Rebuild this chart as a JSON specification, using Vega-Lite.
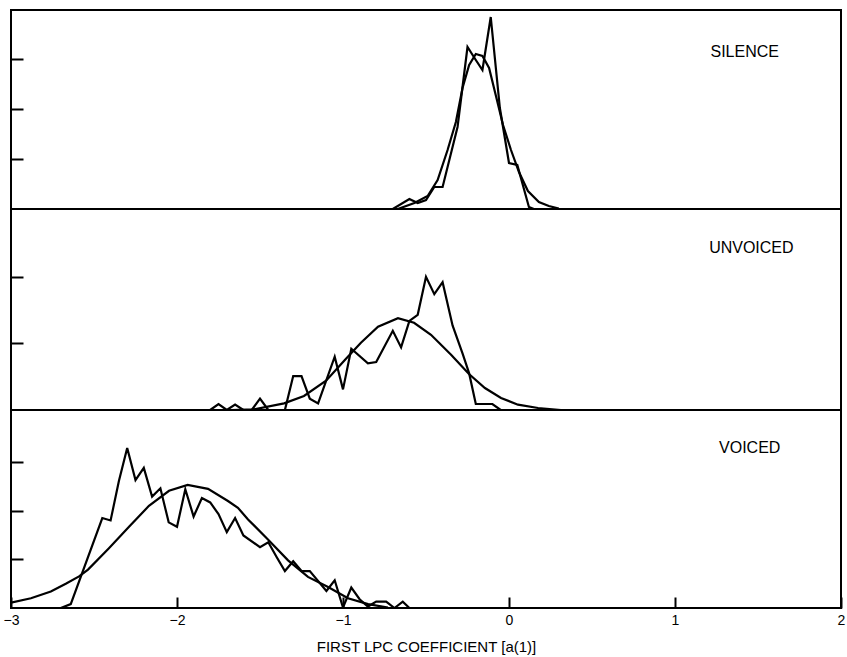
{
  "$schema": "https://vega.github.io/schema/vega-lite/v6.json",
  "background": "white",
  "padding": {"left": 2, "top": 9, "right": 0, "bottom": 0},
  "spacing": 0,
  "bounds": "flush",
  "config": {
    "view": {"stroke": "black", "strokeWidth": 2},
    "font": "Liberation Sans",
    "concat": {"spacing": 0},
    "axis": {"grid": false, "domain": false, "tickColor": "black", "tickWidth": 2, "labelColor": "black", "titleColor": "black"}
  },
  "datasets": {
    "silence": [
      {"x": -0.70, "y": 0, "s": "hist"},
      {"x": -0.60, "y": 0.20, "s": "hist"},
      {"x": -0.55, "y": 0.12, "s": "hist"},
      {"x": -0.50, "y": 0.18, "s": "hist"},
      {"x": -0.45, "y": 0.44, "s": "hist"},
      {"x": -0.40, "y": 0.44, "s": "hist"},
      {"x": -0.31, "y": 1.64, "s": "hist"},
      {"x": -0.25, "y": 3.24, "s": "hist"},
      {"x": -0.20, "y": 2.98, "s": "hist"},
      {"x": -0.16, "y": 2.78, "s": "hist"},
      {"x": -0.11, "y": 3.84, "s": "hist"},
      {"x": -0.055, "y": 2.02, "s": "hist"},
      {"x": 0.00, "y": 0.92, "s": "hist"},
      {"x": 0.05, "y": 0.88, "s": "hist"},
      {"x": 0.12, "y": 0.04, "s": "hist"},
      {"x": 0.15, "y": 0, "s": "hist"},
      {"x": -0.67, "y": 0, "s": "fit"},
      {"x": -0.57, "y": 0.12, "s": "fit"},
      {"x": -0.49, "y": 0.26, "s": "fit"},
      {"x": -0.43, "y": 0.58, "s": "fit"},
      {"x": -0.37, "y": 1.18, "s": "fit"},
      {"x": -0.32, "y": 1.74, "s": "fit"},
      {"x": -0.28, "y": 2.42, "s": "fit"},
      {"x": -0.24, "y": 2.88, "s": "fit"},
      {"x": -0.20, "y": 3.10, "s": "fit"},
      {"x": -0.16, "y": 3.06, "s": "fit"},
      {"x": -0.12, "y": 2.82, "s": "fit"},
      {"x": -0.08, "y": 2.28, "s": "fit"},
      {"x": -0.036, "y": 1.68, "s": "fit"},
      {"x": 0.012, "y": 1.18, "s": "fit"},
      {"x": 0.06, "y": 0.74, "s": "fit"},
      {"x": 0.114, "y": 0.36, "s": "fit"},
      {"x": 0.18, "y": 0.14, "s": "fit"},
      {"x": 0.24, "y": 0.06, "s": "fit"},
      {"x": 0.30, "y": 0.01, "s": "fit"}
    ],
    "unvoiced": [
      {"x": -1.80, "y": 0, "s": "hist"},
      {"x": -1.75, "y": 0.09, "s": "hist"},
      {"x": -1.70, "y": 0, "s": "hist"},
      {"x": -1.65, "y": 0.08, "s": "hist"},
      {"x": -1.60, "y": 0, "s": "hist"},
      {"x": -1.55, "y": 0, "s": "hist"},
      {"x": -1.50, "y": 0.17, "s": "hist"},
      {"x": -1.45, "y": 0, "s": "hist"},
      {"x": -1.35, "y": 0, "s": "hist"},
      {"x": -1.30, "y": 0.51, "s": "hist"},
      {"x": -1.25, "y": 0.51, "s": "hist"},
      {"x": -1.20, "y": 0.17, "s": "hist"},
      {"x": -1.15, "y": 0.10, "s": "hist"},
      {"x": -1.05, "y": 0.80, "s": "hist"},
      {"x": -1.00, "y": 0.31, "s": "hist"},
      {"x": -0.95, "y": 0.92, "s": "hist"},
      {"x": -0.85, "y": 0.70, "s": "hist"},
      {"x": -0.80, "y": 0.72, "s": "hist"},
      {"x": -0.70, "y": 1.19, "s": "hist"},
      {"x": -0.65, "y": 0.94, "s": "hist"},
      {"x": -0.60, "y": 1.34, "s": "hist"},
      {"x": -0.55, "y": 1.43, "s": "hist"},
      {"x": -0.50, "y": 2.00, "s": "hist"},
      {"x": -0.45, "y": 1.74, "s": "hist"},
      {"x": -0.40, "y": 1.92, "s": "hist"},
      {"x": -0.34, "y": 1.27, "s": "hist"},
      {"x": -0.28, "y": 0.85, "s": "hist"},
      {"x": -0.24, "y": 0.55, "s": "hist"},
      {"x": -0.20, "y": 0.09, "s": "hist"},
      {"x": -0.10, "y": 0.09, "s": "hist"},
      {"x": -0.05, "y": 0, "s": "hist"},
      {"x": -1.675, "y": 0, "s": "fit"},
      {"x": -1.536, "y": 0.01, "s": "fit"},
      {"x": -1.355, "y": 0.10, "s": "fit"},
      {"x": -1.235, "y": 0.21, "s": "fit"},
      {"x": -1.102, "y": 0.44, "s": "fit"},
      {"x": -0.982, "y": 0.77, "s": "fit"},
      {"x": -0.892, "y": 1.01, "s": "fit"},
      {"x": -0.789, "y": 1.25, "s": "fit"},
      {"x": -0.669, "y": 1.38, "s": "fit"},
      {"x": -0.572, "y": 1.31, "s": "fit"},
      {"x": -0.470, "y": 1.13, "s": "fit"},
      {"x": -0.349, "y": 0.83, "s": "fit"},
      {"x": -0.241, "y": 0.54, "s": "fit"},
      {"x": -0.145, "y": 0.33, "s": "fit"},
      {"x": -0.048, "y": 0.18, "s": "fit"},
      {"x": 0.054, "y": 0.08, "s": "fit"},
      {"x": 0.175, "y": 0.03, "s": "fit"},
      {"x": 0.313, "y": 0, "s": "fit"}
    ],
    "voiced": [
      {"x": -2.70, "y": 0, "s": "hist"},
      {"x": -2.64, "y": 0.08, "s": "hist"},
      {"x": -2.45, "y": 1.85, "s": "hist"},
      {"x": -2.40, "y": 1.80, "s": "hist"},
      {"x": -2.35, "y": 2.61, "s": "hist"},
      {"x": -2.30, "y": 3.29, "s": "hist"},
      {"x": -2.25, "y": 2.63, "s": "hist"},
      {"x": -2.20, "y": 2.88, "s": "hist"},
      {"x": -2.15, "y": 2.29, "s": "hist"},
      {"x": -2.10, "y": 2.46, "s": "hist"},
      {"x": -2.05, "y": 1.76, "s": "hist"},
      {"x": -2.00, "y": 1.67, "s": "hist"},
      {"x": -1.95, "y": 2.44, "s": "hist"},
      {"x": -1.90, "y": 1.88, "s": "hist"},
      {"x": -1.85, "y": 2.26, "s": "hist"},
      {"x": -1.80, "y": 2.17, "s": "hist"},
      {"x": -1.75, "y": 1.93, "s": "hist"},
      {"x": -1.70, "y": 1.56, "s": "hist"},
      {"x": -1.65, "y": 1.85, "s": "hist"},
      {"x": -1.60, "y": 1.49, "s": "hist"},
      {"x": -1.50, "y": 1.25, "s": "hist"},
      {"x": -1.45, "y": 1.35, "s": "hist"},
      {"x": -1.40, "y": 1.05, "s": "hist"},
      {"x": -1.35, "y": 0.76, "s": "hist"},
      {"x": -1.30, "y": 0.96, "s": "hist"},
      {"x": -1.25, "y": 0.76, "s": "hist"},
      {"x": -1.20, "y": 0.76, "s": "hist"},
      {"x": -1.10, "y": 0.35, "s": "hist"},
      {"x": -1.05, "y": 0.57, "s": "hist"},
      {"x": -1.00, "y": 0.01, "s": "hist"},
      {"x": -0.95, "y": 0.42, "s": "hist"},
      {"x": -0.90, "y": 0.18, "s": "hist"},
      {"x": -0.85, "y": 0.03, "s": "hist"},
      {"x": -0.80, "y": 0.13, "s": "hist"},
      {"x": -0.74, "y": 0.13, "s": "hist"},
      {"x": -0.69, "y": 0, "s": "hist"},
      {"x": -0.64, "y": 0.13, "s": "hist"},
      {"x": -0.60, "y": 0, "s": "hist"},
      {"x": -3.00, "y": 0.11, "s": "fit"},
      {"x": -2.88, "y": 0.20, "s": "fit"},
      {"x": -2.76, "y": 0.34, "s": "fit"},
      {"x": -2.67, "y": 0.50, "s": "fit"},
      {"x": -2.59, "y": 0.65, "s": "fit"},
      {"x": -2.536, "y": 0.79, "s": "fit"},
      {"x": -2.41, "y": 1.23, "s": "fit"},
      {"x": -2.289, "y": 1.67, "s": "fit"},
      {"x": -2.169, "y": 2.10, "s": "fit"},
      {"x": -2.048, "y": 2.41, "s": "fit"},
      {"x": -1.936, "y": 2.53, "s": "fit"},
      {"x": -1.813, "y": 2.45, "s": "fit"},
      {"x": -1.693, "y": 2.20, "s": "fit"},
      {"x": -1.633, "y": 2.06, "s": "fit"},
      {"x": -1.572, "y": 1.82, "s": "fit"},
      {"x": -1.452, "y": 1.41, "s": "fit"},
      {"x": -1.331, "y": 0.98, "s": "fit"},
      {"x": -1.211, "y": 0.64, "s": "fit"},
      {"x": -1.09, "y": 0.43, "s": "fit"},
      {"x": -0.97, "y": 0.20, "s": "fit"},
      {"x": -0.849, "y": 0.08, "s": "fit"},
      {"x": -0.729, "y": 0.01, "s": "fit"}
    ]
  },
  "vconcat": [
    {
      "width": 830,
      "height": 199,
      "layer": [
        {
          "data": {"name": "silence"},
          "mark": {"type": "line", "color": "black", "strokeWidth": 2.2, "clip": true},
          "encoding": {
            "x": {"field": "x", "type": "quantitative", "scale": {"domain": [-3, 2], "nice": false, "zero": false}, "axis": null},
            "y": {"field": "y", "type": "quantitative", "scale": {"domain": [0, 3.98], "nice": false}, "axis": {"values": [1, 2, 3], "labels": false, "tickSize": -12, "title": null, "minExtent": 0, "maxExtent": 0}},
            "detail": {"field": "s"}
          }
        },
        {
          "data": {"values": [{}]},
          "mark": {"type": "text", "fontSize": 16, "align": "center", "baseline": "middle", "color": "black"},
          "encoding": {"x": {"datum": 1.42}, "y": {"datum": 3.14}, "text": {"value": "SILENCE"}}
        }
      ]
    },
    {
      "width": 830,
      "height": 201,
      "layer": [
        {
          "data": {"name": "unvoiced"},
          "mark": {"type": "line", "color": "black", "strokeWidth": 2.2, "clip": true},
          "encoding": {
            "x": {"field": "x", "type": "quantitative", "scale": {"domain": [-3, 2], "nice": false, "zero": false}, "axis": null},
            "y": {"field": "y", "type": "quantitative", "scale": {"domain": [0, 3.02], "nice": false}, "axis": {"values": [1, 2], "labels": false, "tickSize": -12, "title": null, "minExtent": 0, "maxExtent": 0}},
            "detail": {"field": "s"}
          }
        },
        {
          "data": {"values": [{}]},
          "mark": {"type": "text", "fontSize": 16, "align": "center", "baseline": "middle", "color": "black"},
          "encoding": {"x": {"datum": 1.46}, "y": {"datum": 2.44}, "text": {"value": "UNVOICED"}}
        }
      ]
    },
    {
      "width": 830,
      "height": 198,
      "layer": [
        {
          "data": {"name": "voiced"},
          "mark": {"type": "line", "color": "black", "strokeWidth": 2.2, "clip": true},
          "encoding": {
            "x": {"field": "x", "type": "quantitative", "scale": {"domain": [-3, 2], "nice": false, "zero": false},
              "axis": {"values": [-3, -2.5, -2, -1.5, -1, -0.5, 0, 0.5, 1, 1.5, 2], "format": "d", "tickSize": -11, "labelExpr": "datum.value % 1 === 0 ? datum.label : ''", "labelFlush": false, "labelFontSize": 14, "labelPadding": 16, "title": "FIRST LPC COEFFICIENT [a(1)]", "titleFontSize": 15, "titleFontWeight": "normal", "titlePadding": 12}},
            "y": {"field": "y", "type": "quantitative", "scale": {"domain": [0, 4.07], "nice": false}, "axis": {"values": [1, 2, 3], "labels": false, "tickSize": -12, "title": null, "minExtent": 0, "maxExtent": 0}},
            "detail": {"field": "s"}
          }
        },
        {
          "data": {"values": [{}]},
          "mark": {"type": "text", "fontSize": 16, "align": "center", "baseline": "middle", "color": "black"},
          "encoding": {"x": {"datum": 1.45}, "y": {"datum": 3.29}, "text": {"value": "VOICED"}}
        }
      ]
    }
  ]
}
